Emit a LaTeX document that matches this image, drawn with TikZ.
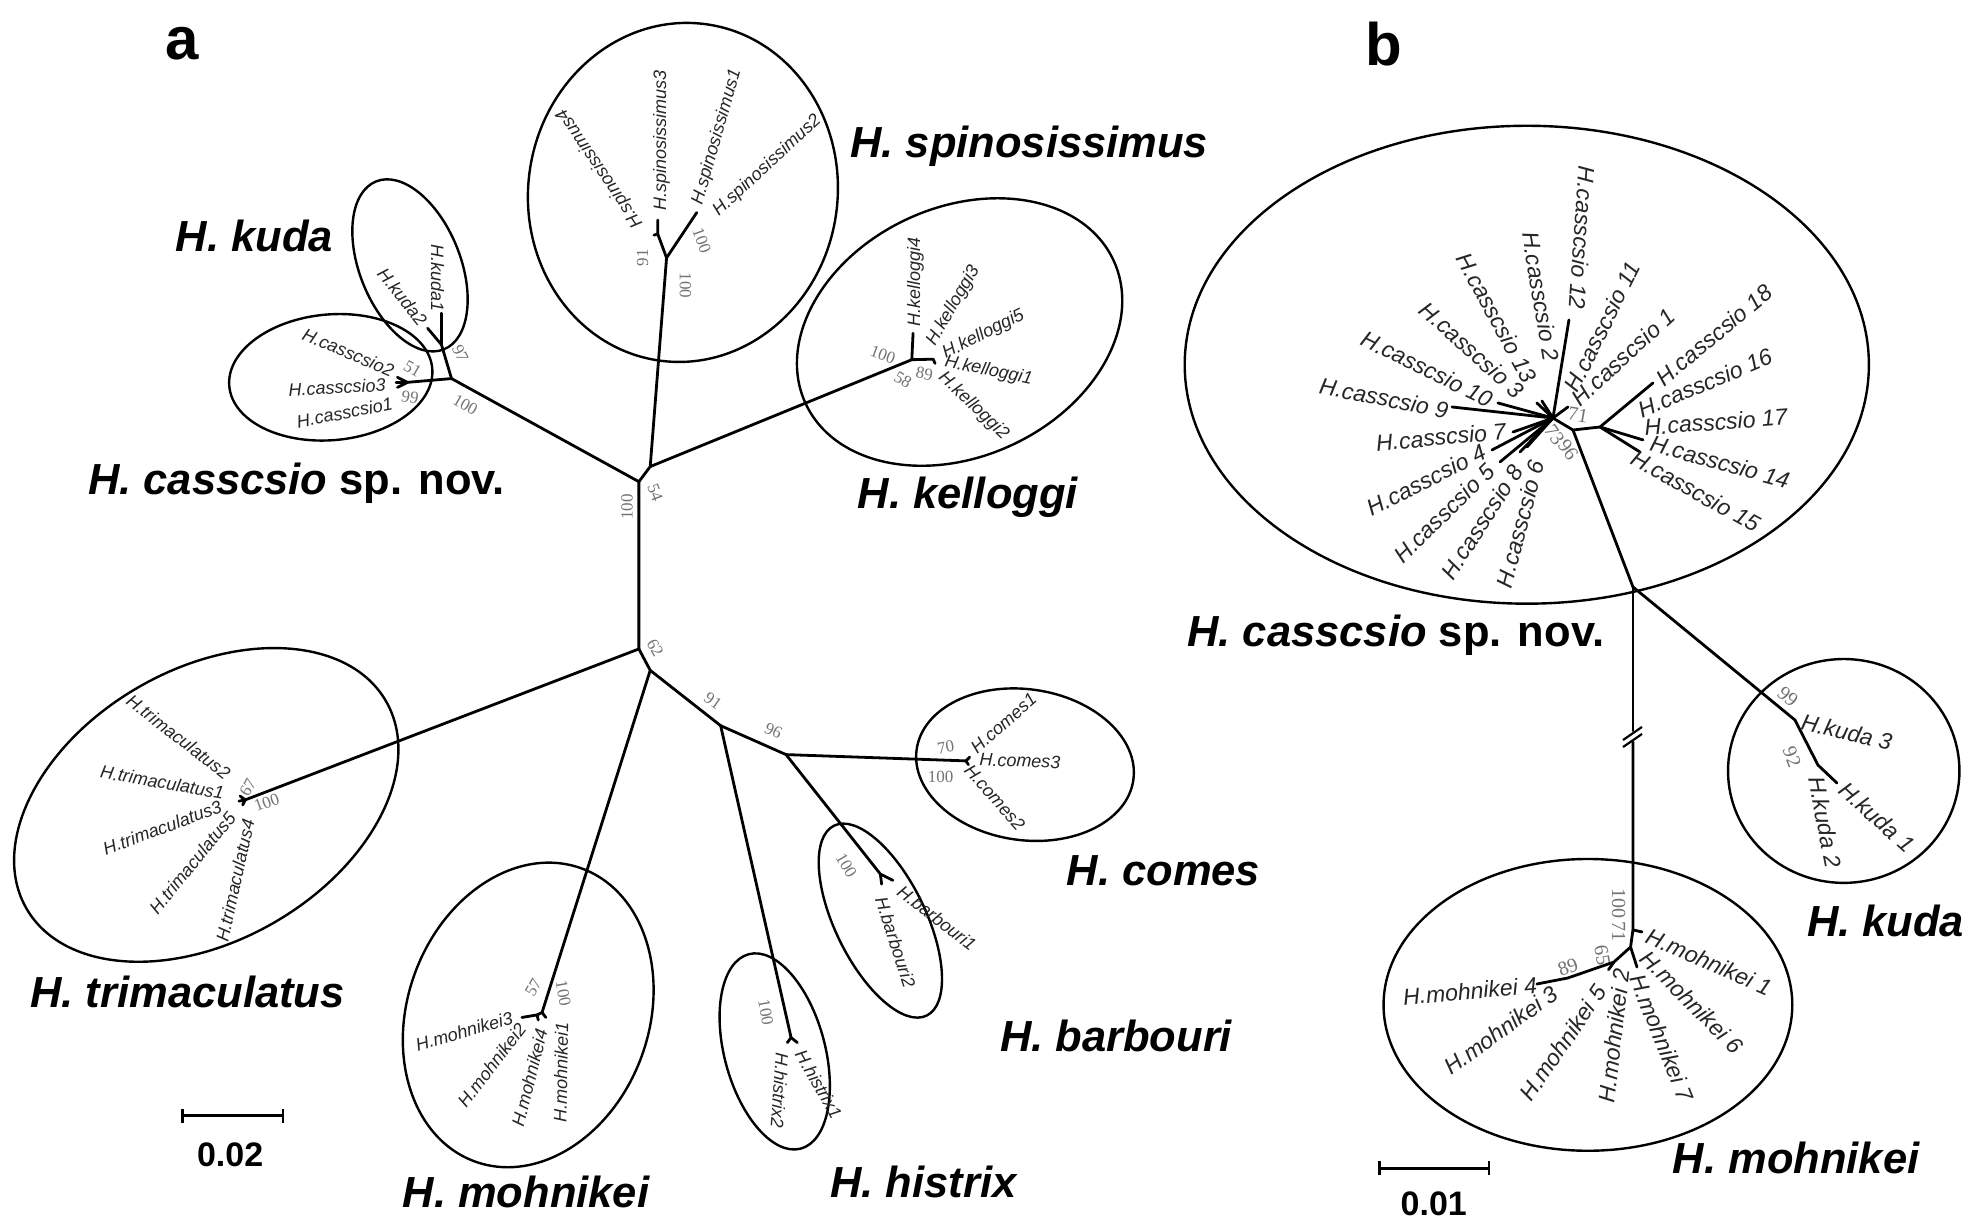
\documentclass[tikz,border=0pt]{standalone}
\usepackage{fontspec}
\setmainfont{Liberation Sans}
\newfontfamily\lsans{Liberation Sans}
\newfontfamily\lserif{Liberation Serif}
\begin{document}
\begin{tikzpicture}[x=1.2577pt,y=-1.2577pt,
  br/.style={line width=2.8pt, line cap=round, line join=round},
  grp/.style={line width=2.4pt},
  tipa/.style={font=\lsans\itshape\fontsize{18}{20}\selectfont, inner sep=0pt, text=black!85},
  tipb/.style={font=\lsans\itshape\fontsize{23}{25}\selectfont, inner sep=0pt, text=black!85},
  boot/.style={font=\lserif\fontsize{17}{18}\selectfont, inner sep=0pt, text=black!55},
  bootb/.style={font=\lserif\fontsize{20}{21}\selectfont, inner sep=0pt, text=black!55},
  big/.style={font=\lsans\bfseries\itshape\fontsize{43.5}{48}\selectfont, inner sep=0pt},
  panel/.style={font=\lsans\bfseries\fontsize{60}{64}\selectfont, inner sep=0pt},
  scl/.style={font=\lsans\bfseries\fontsize{34}{36}\selectfont, inner sep=0pt},
]
\useasboundingbox (0,0) rectangle (1568,971);
\fill[white] (0,0) rectangle (1568,971);

% ================= panel a =================
\node[panel] (pa) at (145,35) {a};
\node[panel] (pb) at (1100,35) {b};

\coordinate (N54) at (508,383);
\coordinate (Nsk) at (517,371);
\coordinate (Nck) at (359,301);
\coordinate (Nkud) at (351,274);
\coordinate (tKud1) at (351,249);
\coordinate (tKud2) at (340,261);
\coordinate (Ncas) at (324,304);
\coordinate (tCas2) at (316,300);
\coordinate (tCas3) at (315,304);
\coordinate (tCas1) at (316,308);
\coordinate (Nsp) at (530,205);
\coordinate (tSp12) at (554,169);
\coordinate (Nsp34) at (523,186);
\coordinate (tSp3) at (523,175);
\coordinate (tSp4) at (520,187);
\coordinate (Kh) at (725,286);
\coordinate (tK4) at (726,265);
\coordinate (tK5) at (742,285.6);
\coordinate (tK2) at (743.5,289);
\coordinate (N62) at (508,516);
\coordinate (N62b) at (517,533);
\coordinate (N91) at (573,577);
\coordinate (N96) at (625,600);
\coordinate (Ch) at (768,605);
\coordinate (tC1) at (771,602);
\coordinate (tC2) at (770,608);
\coordinate (Bh) at (700,695);
\coordinate (tB1) at (710,700);
\coordinate (tB2) at (701,703);
\coordinate (Hh) at (629,825);
\coordinate (tH1) at (634,829);
\coordinate (tH2) at (626,829);
\coordinate (Mh) at (431,805);
\coordinate (Mhb) at (427,807);
\coordinate (tM3) at (415,809);
\coordinate (tM2) at (428,811);
\coordinate (tM1) at (434,809);
\coordinate (Th) at (195,636);
\coordinate (tT1) at (191,633);
\coordinate (tT2) at (190,637);
\coordinate (tT3) at (193,640);

\draw[br] (N54) -- (Nsk) -- (Nsp);
\draw[br] (Nsk) -- (Kh);
\draw[br] (N54) -- (Nck) -- (Nkud) -- (tKud1);
\draw[br] (Nkud) -- (tKud2);
\draw[br] (Nck) -- (Ncas) -- (tCas2);
\draw[br] (Ncas) -- (tCas3);
\draw[br] (Ncas) -- (tCas1);
\draw[br] (Nsp) -- (tSp12);
\draw[br] (Nsp) -- (Nsp34) -- (tSp3);
\draw[br] (Nsp34) -- (tSp4);
\draw[br] (Kh) -- (tK4);
\draw[br] (Kh) -- (tK5) -- (tK2);
\draw[br] (N54) -- (N62) -- (Th);
\draw[br] (Th) -- (tT1); \draw[br] (Th) -- (tT2); \draw[br] (Th) -- (tT3);
\draw[br] (N62) -- (N62b) -- (Mh) -- (Mhb) -- (tM3);
\draw[br] (Mhb) -- (tM2); \draw[br] (Mh) -- (tM1);
\draw[br] (N62b) -- (N91) -- (Hh) -- (tH1);
\draw[br] (Hh) -- (tH2);
\draw[br] (N91) -- (N96) -- (Ch) -- (tC1);
\draw[br] (Ch) -- (tC2);
\draw[br] (N96) -- (Bh) -- (tB1);
\draw[br] (Bh) -- (tB2);

\draw[grp, rotate around={-8:(543,153)}] (543,153) ellipse [x radius=123, y radius=135];
\draw[grp, rotate around={25:(763,264)}] (763,264) ellipse [x radius=135, y radius=99];
\draw[grp, rotate around={-68:(326,211)}] (326,211) ellipse [x radius=72, y radius=40];
\draw[grp, rotate around={5:(263,300)}] (263,300) ellipse [x radius=81, y radius=50];
\draw[grp, rotate around={30:(164,640)}] (164,640) ellipse [x radius=165, y radius=108];
\draw[grp, rotate around={-20:(420,807)}] (420,807) ellipse [x radius=96, y radius=124];
\draw[grp, rotate around={15:(616,836)}] (616,836) ellipse [x radius=40, y radius=80];
\draw[grp, rotate around={26:(700,732)}] (700,732) ellipse [x radius=36, y radius=84];
\draw[grp, rotate around={-8:(815,608)}] (815,608) ellipse [x radius=87, y radius=60];

\node[tipa, rotate=-90] (lKud1) at (348,221) {H.kuda1};
\node[tipa, rotate=-51] (lKud2) at (320,236) {H.kuda2};
\node[tipa, rotate=-23] (lCas2) at (277,280) {H.casscsio2};
\node[tipa, rotate=3] (lCas3) at (268,308) {H.casscsio3};
\node[tipa, rotate=11] (lCas1) at (274,328) {H.casscsio1};
\node[tipa, rotate=90] (lSp3) at (526,112) {H.spinosissimus3};
\node[tipa, rotate=124] (lSp4) at (477,134) {H.spinosissimus4};
\node[tipa, rotate=74] (lSp1) at (570,109) {H.spinosissimus1};
\node[tipa, rotate=42.6] (lSp2) at (610,132) {H.spinosissimus2};
\node[tipa, rotate=90] (lK4) at (728,224) {H.kelloggi4};
\node[tipa, rotate=60] (lK3) at (758,243) {H.kelloggi3};
\node[tipa, rotate=27] (lK5) at (782,266) {H.kelloggi5};
\node[tipa, rotate=-12] (lK1) at (786,295) {H.kelloggi1};
\node[tipa, rotate=-43.5] (lK2) at (774,323) {H.kelloggi2};
\node[tipa, rotate=-37.6] (lT2) at (142,586) {H.trimaculatus2};
\node[tipa, rotate=-10] (lT1) at (129,622) {H.trimaculatus1};
\node[tipa, rotate=20.3] (lT3) at (129,658) {H.trimaculatus3};
\node[tipa, rotate=50.8] (lT5) at (153,686) {H.trimaculatus5};
\node[tipa, rotate=77.6] (lT4) at (187,700) {H.trimaculatus4};
\node[tipa, rotate=16] (lM3) at (369,820) {H.mohnikei3};
\node[tipa, rotate=52.6] (lM2) at (391,847) {H.mohnikei2};
\node[tipa, rotate=76] (lM4) at (421,857) {H.mohnikei4};
\node[tipa, rotate=89] (lM1) at (446,853) {H.mohnikei1};
\node[tipa, rotate=-94] (lH2) at (620,867) {H.histrix2};
\node[tipa, rotate=-60] (lH1) at (651,862) {H.histrix1};
\node[tipa, rotate=-38] (lB1) at (745,730) {H.barbouri1};
\node[tipa, rotate=-72] (lB2) at (712,749) {H.barbouri2};
\node[tipa, rotate=41.6] (lC1) at (798,575) {H.comes1};
\node[tipa, rotate=-2] (lC3) at (811,605) {H.comes3};
\node[tipa, rotate=-48.4] (lC2) at (791,634) {H.comes2};

\node[boot, rotate=-30] (b51) at (328,293) {51};
\node[boot, rotate=-10] (b99) at (326,316) {99};
\node[boot, rotate=-65] (b97) at (366,281) {97};
\node[boot, rotate=-30] (b100c) at (370,322) {100};
\node[boot, rotate=90] (b91s) at (511,205) {91};
\node[boot, rotate=-70] (b100s1) at (558,191) {100};
\node[boot, rotate=-90] (b100s2) at (545,227) {100};
\node[boot, rotate=-20] (b100k) at (702,282) {100};
\node[boot, rotate=-30] (b58) at (718,302) {58};
\node[boot, rotate=-10] (b89) at (735,297) {89};
\node[boot, rotate=-70] (b54) at (521,392) {54};
\node[boot, rotate=90] (b100m) at (498.5,403) {100};
\node[boot, rotate=-60] (b62) at (521,515) {62};
\node[boot, rotate=-35] (b91) at (567,557) {91};
\node[boot, rotate=-25] (b96) at (615,581) {96};
\node[boot, rotate=10] (b70) at (752,594) {70};
\node[boot] (b100co) at (748,618) {100};
\node[boot, rotate=-60] (b100b) at (673,688) {100};
\node[boot, rotate=-80] (b100h) at (609,805) {100};
\node[boot, rotate=60] (b57) at (424,785) {57};
\node[boot, rotate=-80] (b100mo) at (448,790) {100};
\node[boot, rotate=60] (b67) at (197,626) {67};
\node[boot, rotate=20] (b100t) at (212,638) {100};

\node[big, anchor=base west] (gSp) at (676,125) {H. spinosissimus};
\node[big, anchor=base east] (gKud) at (265,200) {H. kuda};
\node[big, anchor=base west] (gCas) at (70,393) {H. casscsio\textup{ sp. nov.}};
\node[big, anchor=base west] (gKel) at (682,404) {H. kelloggi};
\node[big, anchor=base west] (gTri) at (24,801) {H. trimaculatus};
\node[big, anchor=base west] (gMoh) at (320,960) {H. mohnikei};
\node[big, anchor=base west] (gHis) at (660,952) {H. histrix};
\node[big, anchor=base west] (gCom) at (848,704) {H. comes};
\node[big, anchor=base west] (gBar) at (795,836) {H. barbouri};

\coordinate (sa1) at (145,887); \coordinate (sa2) at (225,887);
\draw[line width=2.6pt] (sa1) -- (sa2);
\draw[line width=2.6pt] ([yshift=-7pt]sa1) -- ([yshift=7pt]sa1);
\draw[line width=2.6pt] ([yshift=-7pt]sa2) -- ([yshift=7pt]sa2);
\node[scl] (sla) at (183,918) {0.02};

% ================= panel b =================
\coordinate (H0) at (1234.8,332.4);
\coordinate (H1) at (1250.7,341.9);
\coordinate (H2) at (1272.2,339.5);
\coordinate (J) at (1298.4,466.7);
\coordinate (t12) at (1247.5,254.4);
\coordinate (t11) at (1246.7,323.6);
\coordinate (t2) at (1222,320.4);
\coordinate (t3) at (1226,318.8);
\coordinate (t10) at (1191,320.4);
\coordinate (t9) at (1154.5,323.6);
\coordinate (t7) at (1203,343.5);
\coordinate (t4) at (1186.3,357.8);
\coordinate (t5) at (1192.7,367.3);
\coordinate (t8) at (1208.6,359.4);
\coordinate (t6) at (1214.2,355.4);
\coordinate (t18) at (1314.3,304.5);
\coordinate (t17) at (1306.4,349.8);
\coordinate (t14) at (1304,359.4);
\coordinate (K) at (1427.2,572.5);
\coordinate (K1) at (1445.5,608.3);
\coordinate (tK) at (1460.6,622.6);
\coordinate (Bk1) at (1298.4,581);
\coordinate (Bk2) at (1298.4,590);
\coordinate (M0) at (1298.4,739.4);
\coordinate (tMo1) at (1305.6,741);
\coordinate (M1) at (1296.5,753);
\coordinate (tMo7) at (1301.6,768.9);
\coordinate (M2) at (1283.3,764.9);
\coordinate (tMo5) at (1279,771);
\coordinate (M3) at (1246.7,777.6);
\coordinate (tMo4) at (1222,782.4);

\draw[br] (H0) -- (t12);
\draw[br] (H0) -- (t11);
\draw[br] (H0) -- (t2);
\draw[br] (H0) -- (t3);
\draw[br] (H0) -- (t10);
\draw[br] (H0) -- (t9);
\draw[br] (H0) -- (t7);
\draw[br] (H0) -- (t4);
\draw[br] (H0) -- (t5);
\draw[br] (H0) -- (t8);
\draw[br] (H0) -- (t6);
\draw[br] (H0) -- (H1) -- (H2) -- (t18);
\draw[br] (H2) -- (t17);
\draw[br] (H2) -- (t14);
\draw[br] (H1) -- (J) -- (K) -- (K1) -- (tK);
\draw[br] (J) -- (Bk1);
\draw[br] (Bk2) -- (M0) -- (tMo1);
\draw[br] (M0) -- (M1) -- (tMo7);
\draw[br] (M1) -- (M2) -- (M3) -- (tMo4);
\draw[br] (M2) -- (tMo5);
\coordinate (sl1a) at (1290.5,588.4); \coordinate (sl1b) at (1305.6,578);
\coordinate (sl2a) at (1290.5,594); \coordinate (sl2b) at (1305.6,583.6);
\draw[line width=2.2pt] (sl1a) -- (sl1b);
\draw[line width=2.2pt] (sl2a) -- (sl2b);

\draw[grp] (1214,290) ellipse [x radius=272, y radius=190];
\draw[grp] (1466,613) ellipse [x radius=92, y radius=89];
\draw[grp] (1262.6,799) ellipse [x radius=162.5, y radius=116];

\node[tipb, rotate=-94] (c12) at (1257.8,189.2) {H.casscsio 12};
\node[tipb, rotate=-80.4] (c2) at (1225.3,235.4) {H.casscsio 2};
\node[tipb, rotate=-61.6] (c13) at (1190.3,252.8) {H.casscsio 13};
\node[tipb, rotate=-41.9] (c3) at (1170.4,278.3) {H.casscsio 3};
\node[tipb, rotate=-26.3] (c10) at (1134.6,293.4) {H.casscsio 10};
\node[tipb, rotate=-10.9] (c9) at (1100.4,316.5) {H.casscsio 9};
\node[tipb, rotate=63.4] (c11) at (1273.8,260) {H.casscsio 11};
\node[tipb, rotate=42.7] (c1) at (1290.5,283.9) {H.casscsio 1};
\node[tipb, rotate=39.7] (c18) at (1362.8,266.4) {H.casscsio 18};
\node[tipb, rotate=22.8] (c16) at (1355.6,304.5) {H.casscsio 16};
\node[tipb, rotate=4.2] (c17) at (1364.4,335.5) {H.casscsio 17};
\node[tipb, rotate=-15.4] (c14) at (1367.6,367.3) {H.casscsio 14};
\node[tipb, rotate=-29] (c15) at (1348.5,390.4) {H.casscsio 15};
\node[tipb, rotate=5.5] (c7) at (1145.8,347.5) {H.casscsio 7};
\node[tipb, rotate=26.9] (c4) at (1133.8,381.7) {H.casscsio 4};
\node[tipb, rotate=44.5] (c5) at (1148.1,407.9) {H.casscsio 5};
\node[tipb, rotate=57.1] (c8) at (1178.3,415) {H.casscsio 8};
\node[tipb, rotate=75] (c6) at (1208.6,416.6) {H.casscsio 6};
\node[tipb, rotate=-13] (kd3) at (1468.5,582) {H.kuda 3};
\node[tipb, rotate=-79] (kd2) at (1451,653.6) {H.kuda 2};
\node[tipb, rotate=-42] (kd1) at (1492.4,649.6) {H.kuda 1};
\node[tipb, rotate=5.3] (m4) at (1168.8,788) {H.mohnikei 4};
\node[tipb, rotate=35.7] (m3) at (1193.5,819) {H.mohnikei 3};
\node[tipb, rotate=55.5] (m5) at (1242.7,829.3) {H.mohnikei 5};
\node[tipb, rotate=83.4] (m2) at (1283.3,823.7) {H.mohnikei 2};
\node[tipb, rotate=-68] (m7) at (1321.5,825.3) {H.mohnikei 7};
\node[tipb, rotate=-45.3] (m6) at (1345.3,796.7) {H.mohnikei 6};
\node[tipb, rotate=-23.5] (m1) at (1358.8,764.9) {H.mohnikei 1};

\node[bootb, rotate=-10] (d71) at (1254.7,330) {71};
\node[bootb, rotate=-55] (d73) at (1236,346) {73};
\node[bootb, rotate=-55] (d96) at (1247,358) {96};
\node[bootb, rotate=-40] (d99) at (1421.6,554.2) {99};
\node[bootb, rotate=-70] (d92) at (1424.8,601.9) {92};
\node[bootb, rotate=-90] (d100) at (1287,718) {100};
\node[bootb, rotate=-90] (d71m) at (1287,741) {71};
\node[bootb, rotate=-80] (d65) at (1274,759.3) {65};
\node[bootb, rotate=20] (d89) at (1246.7,768.9) {89};

\node[big, anchor=base west] (gCasB) at (944,514) {H. casscsio\textup{ sp. nov.}};
\node[big, anchor=base west] (gKudB) at (1436.7,745) {H. kuda};
\node[big, anchor=base west] (gMohB) at (1330,933) {H. mohnikei};

\coordinate (sb1) at (1097,929); \coordinate (sb2) at (1184,929);
\draw[line width=2.6pt] (sb1) -- (sb2);
\draw[line width=2.6pt] ([yshift=-7pt]sb1) -- ([yshift=7pt]sb1);
\draw[line width=2.6pt] ([yshift=-7pt]sb2) -- ([yshift=7pt]sb2);
\node[scl] (slb) at (1140,957) {0.01};
\end{tikzpicture}
\end{document}
